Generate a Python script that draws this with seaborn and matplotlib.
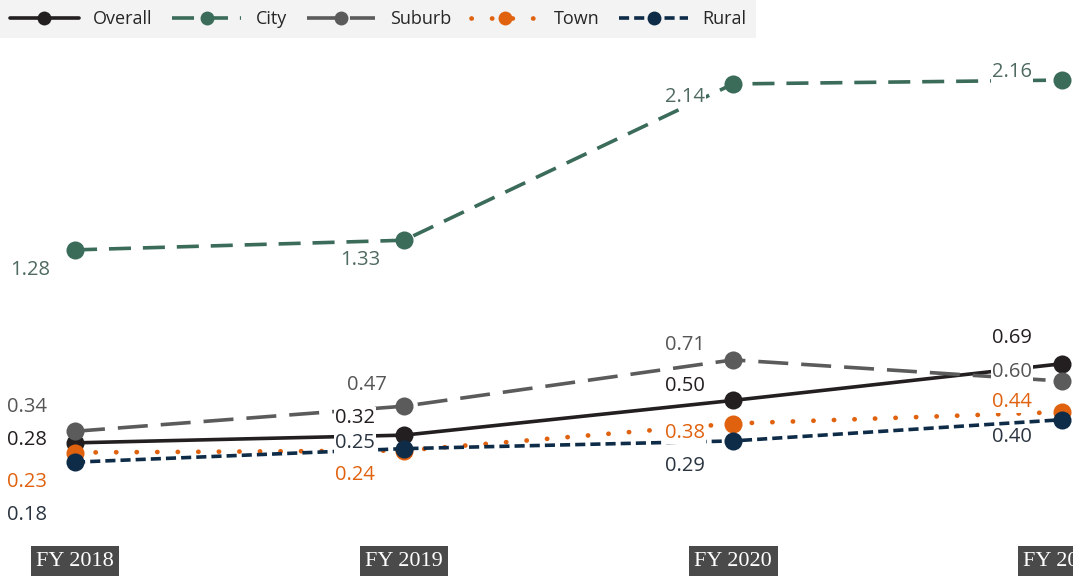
import matplotlib
matplotlib.use("Agg")
import matplotlib.pyplot as plt
import seaborn as sns

years = ["FY 2018", "FY 2019", "FY 2020", "FY 2021"]
series_names = ["Overall", "City", "Suburb", "Town", "Rural"]
overall = [0.28, 0.32, 0.50, 0.69]
city = [1.28, 1.33, 2.14, 2.16]
suburb = [0.34, 0.47, 0.71, 0.60]
town = [0.23, 0.24, 0.38, 0.44]
rural = [0.18, 0.25, 0.29, 0.40]

colors = {"Overall": "#231f20", "City": "#3b6b59", "Suburb": "#5b5b5b",
          "Town": "#e0620f", "Rural": "#0e2c48"}
label_colors = {"Overall": "#231f20", "City": "#4f6a62", "Suburb": "#555555",
                "Town": "#e0620f", "Rural": "#2a3440"}
styles = {"Overall": "-", "City": (0, (6.1, 3.3)), "Suburb": (0, (8.3, 3.6)),
          "Town": (0, (0.05, 4.3)), "Rural": (0, (2.8, 1.4))}

# label offsets in pixels (dx, dy) per series and year
offsets = {
    "Overall": [(-48, 3), (-49, 17), (-48, 14), (-50, 26)],
    "City": [(-45, -20), (-44, -20), (-48, -13), (-50, 8)],
    "Suburb": [(-48, 24), (-37, 21), (-48, 15), (-50, 9)],
    "Town": [(-48, -29), (-49, -24), (-48, -9), (-50, 10)],
    "Rural": [(-48, -53), (-49, 6), (-48, -25), (-50, -17)],
}

data = {"Overall": overall, "City": city, "Suburb": suburb, "Town": town, "Rural": rural}
xpos = list(range(len(years)))

sns.set_theme(style="white")
plt.rcParams["font.family"] = ["Open Sans", "DejaVu Sans"]
plt.rcParams["lines.dash_capstyle"] = "butt"

fig = plt.figure(figsize=(10.73, 5.76), dpi=100)
ax = fig.add_axes([0, 0, 1, 1])

for name in series_names:
    lw = 2.6 if name != "Town" else 3.4
    sns.lineplot(x=xpos, y=data[name], ax=ax, color=colors[name], linestyle=styles[name],
                 linewidth=lw, marker="o", markersize=13, markeredgewidth=0,
                 label=name, zorder=2)
    if name == "Town":
        ax.lines[-1].set_dash_capstyle("round")

for name in series_names:
    for i, v in enumerate(data[name]):
        dx, dy = offsets[name][i]
        ax.annotate(f"{v:.2f}", (xpos[i], v), xytext=(dx, dy), textcoords="offset pixels",
                    ha="center", va="center", fontsize=14.5, color=label_colors[name],
                    zorder=3,
                    bbox=dict(boxstyle="square,pad=0.05", facecolor="white", edgecolor="none"))

ax.set_xlim(-0.228, 3.033)
ax.set_ylim(-0.41, 2.575)
ax.axis("off")

for i, yr in enumerate(years):
    ax.text(i, 0.026, yr, transform=ax.get_xaxis_transform(), ha="center", va="center",
            fontsize=16, color="white", family="Liberation Serif",
            bbox=dict(boxstyle="square,pad=0.25", facecolor="#4a4a4a", edgecolor="none"))

leg = ax.legend(loc="upper left", ncol=5, bbox_to_anchor=(0.0, 1.0), frameon=True,
                fontsize=13, handlelength=3.8, columnspacing=1.1, handletextpad=0.8,
                borderaxespad=0.0, borderpad=0.55, fancybox=False)
leg.get_frame().set_facecolor("#f0f0f0")
leg.get_frame().set_edgecolor("none")
for h in leg.legend_handles:
    h.set_markersize(10)

fig.savefig("out.png", dpi=100)
